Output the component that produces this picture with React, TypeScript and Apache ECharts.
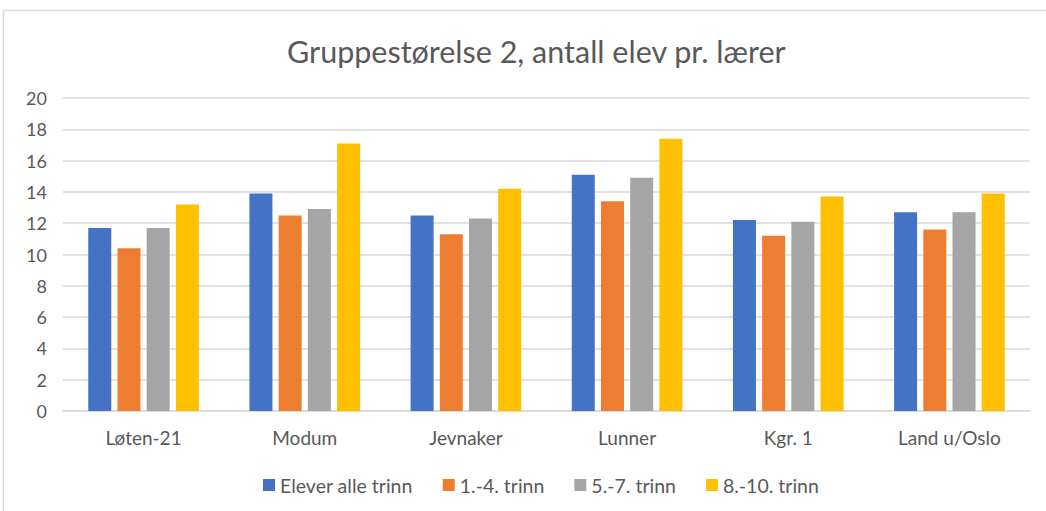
import React, { useEffect, useRef } from "react";
import * as echarts from "echarts";

const categories = ["Løten-21", "Modum", "Jevnaker", "Lunner", "Kgr. 1", "Land u/Oslo"];
const seriesNames = ["Elever alle trinn", "1.-4. trinn", "5.-7. trinn", "8.-10. trinn"];
const eleverAlle = [11.7, 13.9, 12.5, 15.1, 12.2, 12.7];
const trinn1til4 = [10.4, 12.5, 11.3, 13.4, 11.2, 11.6];
const trinn5til7 = [11.7, 12.9, 12.3, 14.9, 12.1, 12.7];
const trinn8til10 = [13.2, 17.1, 14.2, 17.4, 13.7, 13.9];
const colors = ["#4472C4", "#ED7D31", "#A5A5A5", "#FFC000"];

export default function App() {
  const ref = useRef<HTMLDivElement>(null);
  useEffect(() => {
    document.body.style.margin = "0";
    const chart = echarts.init(ref.current!, null, { renderer: "svg" });
    const font = "Lato, 'Open Sans', sans-serif";
    const data = [eleverAlle, trinn1til4, trinn5til7, trinn8til10];
    chart.setOption({
      animation: false,
      backgroundColor: "#ffffff",
      title: {
        text: "Gruppestørelse 2, antall elev pr. lærer",
        left: 282,
        top: 30,
        textStyle: { color: "#595959", fontSize: 30.5, fontWeight: "normal", fontFamily: font },
      },
      graphic: [
        {
          type: "rect",
          shape: { x: 3.5, y: 10.5, width: 1100, height: 600 },
          style: { fill: "none", stroke: "#d9d9d9", lineWidth: 1.5 },
          silent: true,
        },
      ],
      legend: {
        bottom: 11,
        left: 258,
        itemWidth: 12,
        itemHeight: 12,
        itemGap: 30,
        icon: "rect",
        data: seriesNames,
        textStyle: { color: "#595959", fontSize: 19.5, fontFamily: font },
      },
      grid: { left: 63, right: 16, top: 98, bottom: 100, containLabel: false },
      xAxis: {
        type: "category",
        data: categories,
        axisLine: { lineStyle: { color: "#d9d9d9", width: 1.5 } },
        axisTick: { show: false },
        axisLabel: { color: "#595959", fontSize: 19, fontFamily: font, margin: 17 },
      },
      yAxis: {
        type: "value",
        min: 0,
        max: 20,
        interval: 2,
        axisLine: { show: false },
        axisTick: { show: false },
        splitLine: { lineStyle: { color: "#d9d9d9", width: 1.5 } },
        axisLabel: { color: "#595959", fontSize: 18, fontFamily: font, margin: 16 },
      },
      series: seriesNames.map((name, i) => ({
        name,
        type: "bar",
        data: data[i],
        barWidth: 23,
        barGap: "27%",
        itemStyle: { color: colors[i] },
      })),
    });
    return () => chart.dispose();
  }, []);
  return <div ref={ref} style={{ width: 1046, height: 511 }} />;
}
